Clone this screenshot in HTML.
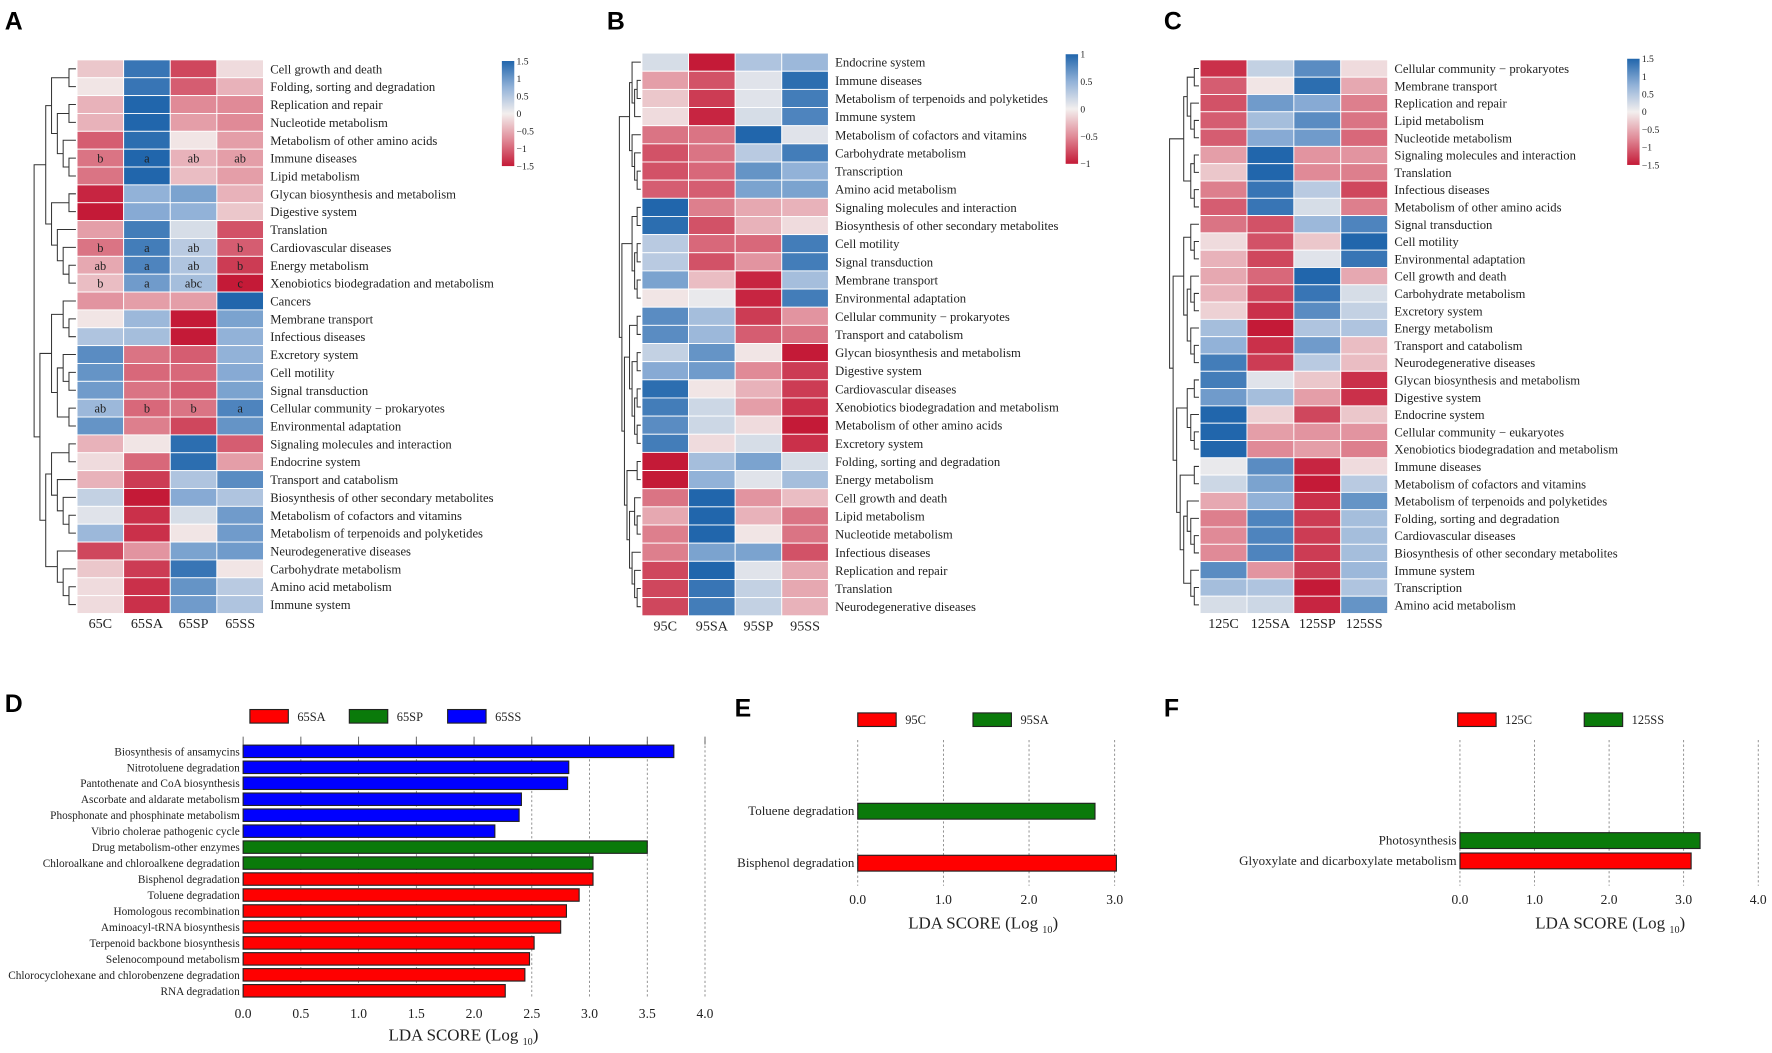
<!DOCTYPE html>
<html><head><meta charset="utf-8">
<style>
html,body{margin:0;padding:0;background:#fff;}
svg{display:block;}
text{font-family:"Liberation Serif",serif;fill:#222;}
.pl{font-family:"Liberation Sans",sans-serif;font-weight:bold;fill:#000;}
</style></head>
<body>
<svg id="fig" width="1772" height="1053" viewBox="0 0 1568 932" xmlns="http://www.w3.org/2000/svg">
<defs>
<linearGradient id="cbg" x1="0" y1="0" x2="0" y2="1">
<stop offset="0" stop-color="#2166ac"/><stop offset="0.25" stop-color="#92b2d8"/><stop offset="0.5" stop-color="#f3efee"/><stop offset="0.75" stop-color="#e08a97"/><stop offset="1" stop-color="#c41a37"/>
</linearGradient>
</defs>
<g id="root"></g>
</svg>
<script>
// ---------- Heatmap data ----------
const colsA = ["65C","65SA","65SP","65SS"];
const rowsA = ["Cell growth and death","Folding, sorting and degradation","Replication and repair","Nucleotide metabolism","Metabolism of other amino acids","Immune diseases","Lipid metabolism","Glycan biosynthesis and metabolism","Digestive system","Translation","Cardiovascular diseases","Energy metabolism","Xenobiotics biodegradation and metabolism","Cancers","Membrane transport","Infectious diseases","Excretory system","Cell motility","Signal transduction","Cellular community \u2212 prokaryotes","Environmental adaptation","Signaling molecules and interaction","Endocrine system","Transport and catabolism","Biosynthesis of other secondary metabolites","Metabolism of cofactors and vitamins","Metabolism of terpenoids and polyketides","Neurodegenerative diseases","Carbohydrate metabolism","Amino acid metabolism","Immune system"];
const valsA = [[-0.2,0.9,-0.8,-0.1],[-0.05,0.9,-0.7,-0.3],[-0.3,1,-0.5,-0.5],[-0.3,1,-0.4,-0.5],[-0.7,0.95,-0.05,-0.4],[-0.6,1,-0.3,-0.4],[-0.6,1,-0.25,-0.4],[-0.95,0.5,0.6,-0.3],[-1,0.55,0.5,-0.2],[-0.4,0.85,0.15,-0.75],[-0.6,0.85,0.3,-0.7],[-0.35,0.8,0.35,-0.85],[-0.25,0.65,0.4,-1],[-0.45,-0.4,-0.4,1],[-0.05,0.45,-1,0.6],[0.35,0.4,-1,0.5],[0.75,-0.6,-0.7,0.5],[0.7,-0.65,-0.65,0.55],[0.65,-0.6,-0.7,0.6],[0.45,-0.65,-0.6,0.8],[0.7,-0.55,-0.8,0.7],[-0.3,-0.05,0.95,-0.7],[-0.1,-0.65,0.95,-0.4],[-0.3,-0.85,0.35,0.75],[0.25,-1,0.55,0.35],[0.1,-0.9,0.15,0.65],[0.45,-0.9,-0.05,0.65],[-0.8,-0.45,0.6,0.65],[-0.2,-0.85,0.9,-0.05],[-0.1,-0.9,0.7,0.3],[-0.1,-0.9,0.65,0.35]];
const lettersA = {5:["b","a","ab","ab"],10:["b","a","ab","b"],11:["ab","a","ab","b"],12:["b","a","abc","c"],19:["ab","b","b","a"]};
const treeA = [[[[0,1],[[2,3],[4,[5,6]]]],[[7,8],[9,[10,[11,12]]]]],[[[13,[14,15]],[[16,[17,18]],[19,20]]],[[[21,22],[23,[24,[25,26]]]],[27,[28,[29,30]]]]]];

const colsB = ["95C","95SA","95SP","95SS"];
const rowsB = ["Endocrine system","Immune diseases","Metabolism of terpenoids and polyketides","Immune system","Metabolism of cofactors and vitamins","Carbohydrate metabolism","Transcription","Amino acid metabolism","Signaling molecules and interaction","Biosynthesis of other secondary metabolites","Cell motility","Signal transduction","Membrane transport","Environmental adaptation","Cellular community \u2212 prokaryotes","Transport and catabolism","Glycan biosynthesis and metabolism","Digestive system","Cardiovascular diseases","Xenobiotics biodegradation and metabolism","Metabolism of other amino acids","Excretory system","Folding, sorting and degradation","Energy metabolism","Cell growth and death","Lipid metabolism","Nucleotide metabolism","Infectious diseases","Replication and repair","Translation","Neurodegenerative diseases"];
const valsB = [[0.15,-1,0.35,0.45],[-0.4,-0.75,0.1,0.95],[-0.2,-0.85,0.1,0.85],[-0.1,-0.95,0.15,0.8],[-0.6,-0.6,1,0.1],[-0.75,-0.6,0.3,0.85],[-0.75,-0.65,0.7,0.5],[-0.7,-0.7,0.6,0.6],[1,-0.55,-0.35,-0.3],[0.95,-0.75,-0.3,-0.1],[0.3,-0.65,-0.65,0.85],[0.3,-0.75,-0.45,0.85],[0.6,-0.25,-0.95,0.4],[-0.05,0.05,-0.95,0.85],[0.75,0.4,-0.85,-0.45],[0.75,0.45,-0.7,-0.6],[0.25,0.7,-0.05,-1],[0.55,0.65,-0.5,-0.85],[0.95,-0.05,-0.3,-0.85],[0.85,0.2,-0.4,-0.9],[0.75,0.2,-0.1,-1],[0.85,-0.1,0.15,-0.9],[-1,0.4,0.6,0.15],[-1,0.5,0.1,0.4],[-0.6,1,-0.45,-0.25],[-0.35,1,-0.3,-0.6],[-0.55,1,-0.05,-0.6],[-0.55,0.6,0.6,-0.75],[-0.8,1,0.1,-0.35],[-0.8,0.9,0.25,-0.35],[-0.8,0.85,0.25,-0.3]];
const treeB = [[[0,[[1,2],3]],[4,[5,[6,7]]]],[[[8,9],[[10,11],[12,13]]],[[[14,15],[[16,17],[[18,19],[20,21]]]],[[22,23],[[24,[25,26]],[27,[28,[29,30]]]]]]]];

const colsC = ["125C","125SA","125SP","125SS"];
const rowsC = ["Cellular community \u2212 prokaryotes","Membrane transport","Replication and repair","Lipid metabolism","Nucleotide metabolism","Signaling molecules and interaction","Translation","Infectious diseases","Metabolism of other amino acids","Signal transduction","Cell motility","Environmental adaptation","Cell growth and death","Carbohydrate metabolism","Excretory system","Energy metabolism","Transport and catabolism","Neurodegenerative diseases","Glycan biosynthesis and metabolism","Digestive system","Endocrine system","Cellular community \u2212 eukaryotes","Xenobiotics biodegradation and metabolism","Immune diseases","Metabolism of cofactors and vitamins","Metabolism of terpenoids and polyketides","Folding, sorting and degradation","Cardiovascular diseases","Biosynthesis of other secondary metabolites","Immune system","Transcription","Amino acid metabolism"];
const valsC = [[-0.9,0.25,0.75,-0.1],[-0.7,-0.05,0.95,-0.35],[-0.75,0.65,0.55,-0.55],[-0.7,0.4,0.75,-0.6],[-0.7,0.55,0.65,-0.65],[-0.4,1,-0.45,-0.45],[-0.2,1,-0.5,-0.55],[-0.55,0.9,0.3,-0.8],[-0.7,0.9,0.15,-0.55],[-0.6,-0.75,0.45,0.8],[-0.1,-0.75,-0.2,1],[-0.3,-0.8,0.1,0.9],[-0.35,-0.65,1,-0.35],[-0.3,-0.8,0.9,0.15],[-0.15,-0.9,0.75,0.25],[0.4,-1,0.35,0.35],[0.5,-0.9,0.65,-0.25],[0.85,-0.85,0.3,-0.25],[0.85,0.1,-0.2,-0.9],[0.65,0.4,-0.4,-0.9],[1,-0.15,-0.8,-0.2],[1,-0.4,-0.45,-0.45],[1,-0.5,-0.4,-0.55],[0.05,0.75,-0.95,-0.1],[0.2,0.6,-1,0.3],[-0.35,0.5,-0.9,0.7],[-0.55,0.8,-0.85,0.4],[-0.5,0.8,-0.85,0.4],[-0.5,0.8,-0.85,0.4],[0.75,-0.45,-0.85,0.45],[0.4,0.35,-1,0.35],[0.15,0.2,-0.95,0.7]];
const treeC = [[[[0,1],[2,[3,4]]],[[5,6],[7,8]]],[[[9,[10,11]],[[12,[13,14]],[15,[16,17]]]],[[[18,19],[20,[21,22]]],[[23,24],[[25,[26,[27,28]]],[29,[30,31]]]]]]];

const ticksAC = ["1.5","1","0.5","0","\u22120.5","\u22121","\u22121.5"];
const ticksB = ["1","0.5","0","\u22120.5","\u22121"];

// ---------- LDA data ----------
const ldaDLabels = ["Biosynthesis of ansamycins","Nitrotoluene degradation","Pantothenate and CoA biosynthesis","Ascorbate and aldarate metabolism","Phosphonate and phosphinate metabolism","Vibrio cholerae pathogenic cycle","Drug metabolism-other enzymes","Chloroalkane and chloroalkene degradation","Bisphenol degradation","Toluene degradation","Homologous recombination","Aminoacyl-tRNA biosynthesis","Terpenoid backbone biosynthesis","Selenocompound metabolism","Chlorocyclohexane and chlorobenzene degradation","RNA degradation"];
const ldaDValues = [3.73,2.82,2.81,2.41,2.39,2.18,3.5,3.03,3.03,2.91,2.8,2.75,2.52,2.48,2.44,2.27];
const ldaDGroups = [2,2,2,2,2,2,1,1,0,0,0,0,0,0,0,0];
const ldaDLegend = ["65SA","65SP","65SS"];
const ldaDTicks = [0,0.5,1,1.5,2,2.5,3,3.5,4];
const ldaELabels = ["Toluene degradation","Bisphenol degradation"];
const ldaEValues = [2.77,3.02];
const ldaEGroups = [1,0];
const ldaELegend = ["95C","95SA"];
const ldaETicks = [0,1,2,3];
const ldaFLabels = ["Photosynthesis","Glyoxylate and dicarboxylate metabolism"];
const ldaFValues = [3.22,3.1];
const ldaFGroups = [1,0];
const ldaFLegend = ["125C","125SS"];
const ldaFTicks = [0,1,2,3,4];
const groupColors = ["#ff0000","#0a7a0a","#0000ff"];

const NS="http://www.w3.org/2000/svg";
const root=document.getElementById('root');
function mk(tag,attrs,parent){const e=document.createElementNS(NS,tag);for(const k in attrs)e.setAttribute(k,attrs[k]);(parent||root).appendChild(e);return e;}
function txt(s,x,y,size,anchor,parent){const t=mk('text',{x:x,y:y,'font-size':size,'text-anchor':anchor||'start'},parent);t.textContent=s;return t;}

function lerp(a,b,t){return a.map((v,i)=>Math.round(v+(b[i]-v)*t));}
function color(v){
  const red=[196,26,55],lr=[224,138,151],wh=[243,239,238],lb=[146,178,216],bl=[33,102,172];
  v=Math.max(-1,Math.min(1,v));
  let c;
  if(v<-0.5)c=lerp(red,lr,(v+1)/0.5);else if(v<0)c=lerp(lr,wh,(v+0.5)/0.5);
  else if(v<0.5)c=lerp(wh,lb,v/0.5);else c=lerp(lb,bl,(v-0.5)/0.5);
  return `rgb(${c[0]},${c[1]},${c[2]})`;
}

function heatmap(id,rows,cols,vals,tree,letters,x0,y0,x1,y1,dx0,cbx,cby0,cby1,ticks){
  const g=mk('g',{});
  
  
  const n=rows.length, cw=(x1-x0)/cols.length, rh=(y1-y0)/n;
  vals.forEach((r,i)=>r.forEach((v,j)=>{
    const c=mk('rect',{x:x0+j*cw,y:y0+i*rh,width:cw,height:rh,fill:color(v),stroke:'#fff','stroke-width':0.8},g);
    
    
    if(letters&&letters[i]) txt(letters[i][j],x0+(j+0.5)*cw,y0+(i+0.5)*rh+4,11,'middle',g);
  }));
  rows.forEach((r,i)=>{const t=txt(r,x1+6,y0+(i+0.5)*rh+4,11.2,'start',g);
    
    });
  cols.forEach((c,j)=>{const t=txt(c,x0+(j+0.5)*cw,y1+13,12.5,'middle',g);
    
    });
  function depth(nd){return Array.isArray(nd)?1+Math.max(depth(nd[0]),depth(nd[1])):0;}
  const D=depth(tree), unit=(x0-2-dx0)/D;
  const dg=mk('g',{stroke:'#333','stroke-width':0.9,fill:'none'},g);
  
  
  function draw(nd){
    if(!Array.isArray(nd))return {y:y0+(nd+0.5)*rh,x:x0-1};
    const a=draw(nd[0]),b=draw(nd[1]);const x=x0-2-depth(nd)*unit;
    mk('path',{d:`M${a.x},${a.y}H${x}V${b.y}H${b.x}`},dg);
    return {y:(a.y+b.y)/2,x:x};
  }
  draw(tree);
  const cb=mk('rect',{x:cbx,y:cby0,width:11,height:cby1-cby0,fill:'url(#cbg)'},g);
  
  
  ticks.forEach((t,i)=>{txt(t,cbx+13,cby0+i*(cby1-cby0)/(ticks.length-1)+3,8.5,'start',g);});
}

heatmap('a',rowsA,colsA,valsA,treeA,lettersA,68,53,233,543,30,444,54,147,ticksAC);
heatmap('b',rowsB,colsB,valsB,treeB,null,568,47,733,545,548,943,48,145,ticksB);
heatmap('c',rowsC,colsC,valsC,treeC,null,1062,53,1228,543,1035,1440,52,146,ticksAC);

function lda(id,labels,values,groups,legend,legColors,legX,legY,ticks,ax0,unitPx,barY0,barStep,barH,gridTop,gridBottom,tickY,titleX,titleY,labelSize,topTicks){
  const g=mk('g',{});
  
  
  const xs=v=>ax0+v*unitPx;
  ticks.forEach(t=>{
    if(t>0||!topTicks) mk('line',{x1:xs(t),x2:xs(t),y1:gridTop,y2:gridBottom,stroke:'#777','stroke-width':0.7,'stroke-dasharray':'2,2'},g);
    if(topTicks) mk('line',{x1:xs(t),x2:xs(t),y1:gridTop-4,y2:gridTop+3,stroke:'#555','stroke-width':0.8},g);
    const tl=txt(t.toFixed(1),xs(t),tickY,12,'middle',g);
    
    
  });
  values.forEach((v,i)=>{
    const y=barY0+i*barStep;
    const b=mk('rect',{x:xs(0),y:y-barH/2,width:xs(v)-xs(0),height:barH,fill:groupColors[groups[i]],stroke:'#222','stroke-width':1},g);
    
    
    const l=txt(labels[i],xs(0)-3,y+3.5,labelSize,'end',g);
    
    
  });
  legend.forEach((s,i)=>{
    const r=mk('rect',{x:legX[i],y:legY-6,width:34,height:12,fill:legColors[i],stroke:'#222','stroke-width':1},g);
    
    
    txt(s,legX[i]+42,legY+4,11,'start',g);
  });
  const t=mk('text',{x:titleX,y:titleY,'font-size':15,'text-anchor':'middle'},g);
  
  
  t.innerHTML='LDA SCORE (Log <tspan font-size="9" dy="4">10</tspan><tspan dy="-4">)</tspan>';
}
lda('d',ldaDLabels,ldaDValues,ldaDGroups,ldaDLegend,groupColors,[221,309,396],634,ldaDTicks,215,102.2,665,14.13,11,656,884,901,410,921,10,true);
lda('e',ldaELabels,ldaEValues,ldaEGroups,ldaELegend,["#ff0000","#0a7a0a"],[759,861],637,ldaETicks,759,75.8,718,46,14,655,784,800,870,822,11.5,false);
lda('f',ldaFLabels,ldaFValues,ldaFGroups,ldaFLegend,["#ff0000","#0a7a0a"],[1290,1402],637,ldaFTicks,1292,66,744,18,14,655,784,800,1425,822,11.5,false);

[["A",4,26],["B",537,26],["C",1030,26],["D",4,630],["E",650,634],["F",1030,634]].forEach(p=>{
  const t=txt(p[0],p[1],p[2],22,'start');
  t.setAttribute('class','pl');
  
  
});
</script>
</body></html>
